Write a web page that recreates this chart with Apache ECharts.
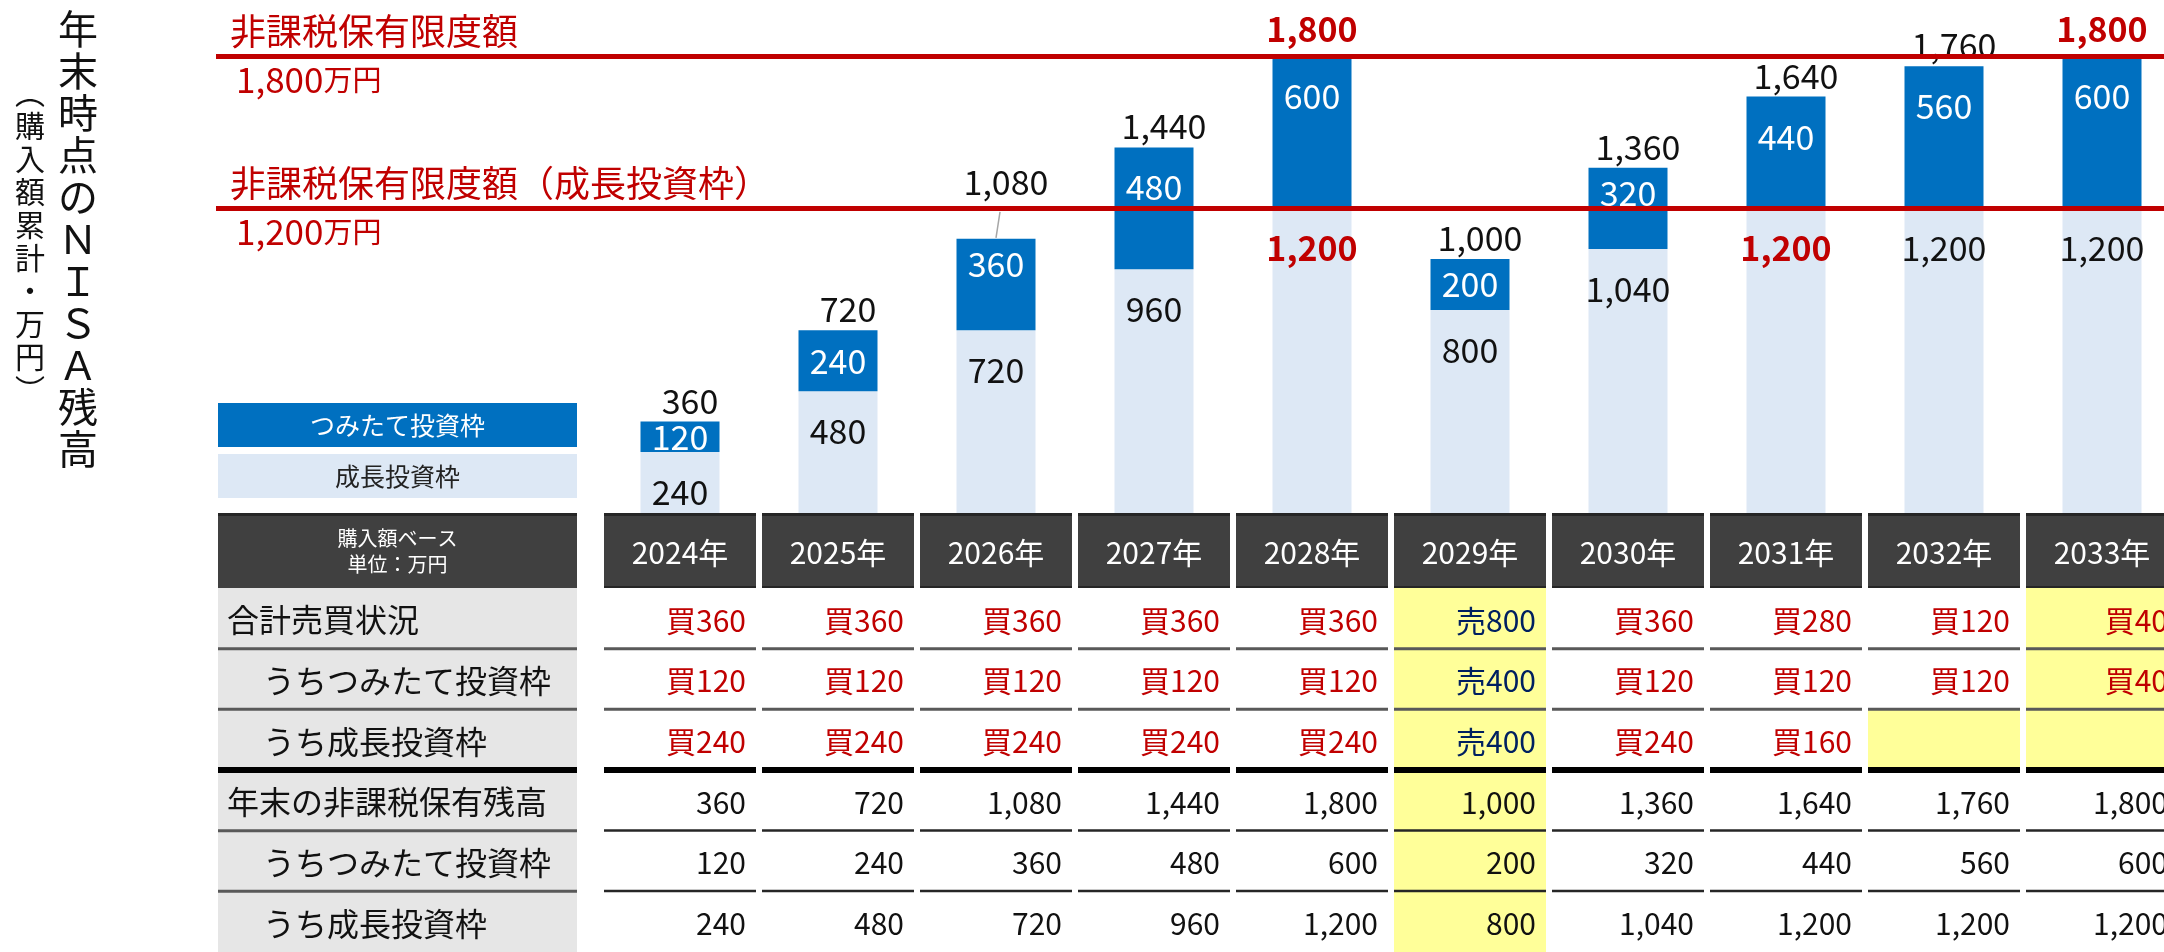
<!DOCTYPE html>
<html>
<head>
<meta charset="utf-8">
<title>NISA残高の推移</title>
<script src="https://cdn.jsdelivr.net/npm/echarts@6/dist/echarts.min.js"></script>
<style>
html, body { margin: 0; padding: 0; background: #fff; }
#chart { width: 2164px; height: 952px; }
</style>
</head>
<body>
<div id="chart"></div>
<script>
// data (万円)
const years = ['2024年', '2025年', '2026年', '2027年', '2028年', '2029年', '2030年', '2031年', '2032年', '2033年']
const growth = [240, 480, 720, 960, 1200, 800, 1040, 1200, 1200, 1200]
const tsumitate = [120, 240, 360, 480, 600, 200, 320, 440, 560, 600]
const totals = [360, 720, 1080, 1440, 1800, 1000, 1360, 1640, 1760, 1800]
// buy > 0, sell < 0
const tradeTotal = [360, 360, 360, 360, 360, -800, 360, 280, 120, 40]
const tradeTsumitate = [120, 120, 120, 120, 120, -400, 120, 120, 120, 40]
const tradeGrowth = [240, 240, 240, 240, 240, -400, 240, 160, null, null]
const limitValues = [1800, 1200]
const limitTitles = ['非課税保有限度額', '非課税保有限度額（成長投資枠）']
const rowLabels = ['合計売買状況', 'うちつみたて投資枠', 'うち成長投資枠', '年末の非課税保有残高', 'うちつみたて投資枠', 'うち成長投資枠']
const rowIndented = [false, true, true, false, true, true]
// [column, row] cells marked yellow
const highlightCells = [[5, 0], [5, 1], [5, 2], [5, 3], [5, 4], [5, 5], [8, 2], [9, 0], [9, 1], [9, 2]]
const liftedTotals = [2]

const FONT = '"Noto Sans CJK JP", "Noto Sans", sans-serif'
const RED = '#c00000'
const NAVY = '#002060'
const DARK = '#0070c0'
const LIGHT = '#dde8f5'
const YELLOW = '#ffff99'
const LABEL_W = 359
const LABEL_GAP = 24

const fmt = v => v.toLocaleString('en-US')
const reachesLimit = (arr, i, limit) => arr[i] >= limit && (i === 0 || arr[i - 1] < limit)
const vertical = s => s.split('').join('\n')
const tableRows = [tradeTotal, tradeTsumitate, tradeGrowth, totals, tsumitate, growth]
const isHighlighted = (col, row) => highlightCells.some(c => c[0] === col && c[1] === row)

function cellText(col, row) {
	const v = tableRows[row][col]
	if (v == null) return { text: '', color: '#000' }
	if (row < 3) {
		return v < 0 ? { text: '売' + fmt(-v), color: NAVY } : { text: '買' + fmt(v), color: RED }
	}
	return { text: fmt(v), color: '#111' }
}

function darkLabel(v) {
	if (v < 300) return { position: 'inside' }
	if (v < 400) return { distance: 8 }
	return {}
}

const chart = echarts.init(document.getElementById('chart'))

const bodyData = []
years.forEach((y, col) => rowLabels.forEach((r, row) => bodyData.push([col, row])))

const limitLineData = []
limitValues.forEach((v, i) => {
	limitLineData.push({
		yAxis: v,
		label: {
			position: 'insideStartTop',
			distance: [14, 7],
			formatter: limitTitles[i],
			color: RED,
			fontSize: 36,
			fontFamily: FONT,
		},
	})
	limitLineData.push({
		yAxis: v,
		label: {
			position: 'insideStartBottom',
			distance: [20, 6],
			formatter: '{n|' + fmt(v) + '}{u|万円}',
			rich: {
				n: { color: RED, fontSize: 35, fontFamily: FONT },
				u: { color: RED, fontSize: 29, fontFamily: FONT },
			},
		},
	})
})

const legendItems = [
	{ name: 'つみたて投資枠', fill: DARK, text: '#fff' },
	{ name: '成長投資枠', fill: LIGHT, text: '#222' },
]

const gridBase = { outerBoundsMode: 'none', containLabel: false }

const option = {
	animation: false,
	backgroundColor: '#fff',
	title: [
		{
			text: vertical('年末時点のＮＩＳＡ残高'),
			left: 58,
			top: 8,
			padding: 0,
			textStyle: { fontSize: 40, lineHeight: 42, fontWeight: 'normal', color: '#111', fontFamily: FONT },
		},
		{
			text: vertical('︵購入額累計・万円︶'),
			left: 15,
			top: 76,
			padding: 0,
			textStyle: { fontSize: 30, lineHeight: 33, fontWeight: 'normal', color: '#111', fontFamily: FONT },
		},
	],
	graphic: legendItems.map((item, i) => ({
		type: 'group',
		left: 218,
		top: 403 + i * 51,
		children: [
			{ type: 'rect', shape: { x: 0, y: 0, width: LABEL_W, height: 44 }, style: { fill: item.fill } },
			{
				type: 'text',
				x: LABEL_W / 2,
				y: 22,
				style: { text: item.name, fill: item.text, fontSize: 25, fontFamily: FONT, align: 'center', verticalAlign: 'middle' },
			},
		],
	})),
	grid: [
		{ ...gridBase, left: 601, width: 1580, top: 56, height: 457 },
		{ ...gridBase, left: 601, width: 1580, top: 513, height: 75 },
		{ ...gridBase, left: 601, width: 1580, top: 588, height: 364 },
		{ ...gridBase, left: 216, right: 0, top: 56, height: 457 },
	],
	xAxis: [
		{ type: 'category', gridIndex: 0, data: years, show: false },
		{ type: 'category', gridIndex: 1, data: years, show: false },
		{ type: 'category', gridIndex: 2, data: years, show: false },
		{ type: 'value', gridIndex: 3, min: 0, max: 1, show: false },
	],
	yAxis: [
		{ type: 'value', gridIndex: 0, min: 0, max: 1800, show: false },
		{ type: 'category', gridIndex: 1, data: ['header'], show: false },
		{ type: 'category', gridIndex: 2, data: rowLabels.map((r, i) => 'r' + i), inverse: true, show: false },
		{ type: 'value', gridIndex: 3, min: 0, max: 1800, show: false },
	],
	series: [
		{
			name: '成長投資枠',
			type: 'bar',
			stack: 'nisa',
			barWidth: '50%',
			itemStyle: { color: LIGHT },
			label: {
				show: true,
				position: 'insideTop',
				distance: 23,
				fontSize: 34,
				color: '#111',
				fontFamily: FONT,
				formatter: p => fmt(p.value),
			},
			data: growth.map((v, i) => ({
				value: v,
				label: reachesLimit(growth, i, limitValues[1]) ? { color: RED, fontWeight: 'bold' } : {},
			})),
		},
		{
			name: 'つみたて投資枠',
			type: 'bar',
			stack: 'nisa',
			barWidth: '50%',
			itemStyle: { color: DARK },
			label: {
				show: true,
				position: 'insideTop',
				distance: 23,
				fontSize: 34,
				color: '#fff',
				fontFamily: FONT,
				formatter: p => fmt(p.value),
			},
			data: tsumitate.map(v => ({ value: v, label: darkLabel(v) })),
		},
		{
			// totals above each bar
			name: '合計',
			type: 'custom',
			silent: true,
			data: totals.map((v, i) => [i, v]),
			renderItem(params, api) {
				const i = api.value(0)
				const v = api.value(1)
				const p = api.coord([i, v])
				const hit = reachesLimit(totals, i, limitValues[0])
				const lift = liftedTotals.includes(i) ? 36 : 0
				const children = [{
					type: 'text',
					x: p[0] + (hit ? 0 : 10),
					y: p[1] - (hit ? 10 : 4) - lift,
					style: {
						text: fmt(v),
						fill: hit ? RED : '#111',
						fontSize: 34,
						fontWeight: hit ? 'bold' : 'normal',
						fontFamily: FONT,
						align: 'center',
						verticalAlign: 'bottom',
					},
				}]
				if (lift) {
					children.push({
						type: 'line',
						shape: { x1: p[0], y1: p[1] - 1, x2: p[0] + 4, y2: p[1] - 27 },
						style: { stroke: '#a6a6a6', lineWidth: 1.5 },
					})
				}
				return { type: 'group', children }
			},
		},
		{
			type: 'line',
			xAxisIndex: 3,
			yAxisIndex: 3,
			data: [],
			z: 5,
			markLine: {
				silent: true,
				symbol: ['none', 'none'],
				lineStyle: { color: RED, width: 5, type: 'solid' },
				emphasis: { disabled: true },
				data: limitLineData,
			},
		},
		{
			// year header cells
			type: 'custom',
			xAxisIndex: 1,
			yAxisIndex: 1,
			silent: true,
			data: years.map((y, i) => [i, 0]),
			renderItem(params, api) {
				const col = api.value(0)
				const c = api.coord([col, 0])
				const s = api.size([1, 1])
				const w = s[0] - 6
				const x0 = c[0] - w / 2
				const y0 = c[1] - s[1] / 2
				return {
					type: 'group',
					children: [
						{ type: 'rect', shape: { x: x0, y: y0, width: w, height: s[1] }, style: { fill: '#404040' } },
						{ type: 'rect', shape: { x: x0, y: y0, width: w, height: 3 }, style: { fill: '#262626' } },
						{ type: 'rect', shape: { x: x0, y: y0 + s[1] - 2, width: w, height: 2 }, style: { fill: '#262626' } },
						{
							type: 'text',
							x: c[0],
							y: c[1] + 2,
							style: { text: years[col], fill: '#fff', fontSize: 30, fontFamily: FONT, align: 'center', verticalAlign: 'middle' },
						},
					],
				}
			},
		},
		{
			// corner header cell
			type: 'custom',
			xAxisIndex: 1,
			yAxisIndex: 1,
			silent: true,
			data: [[0, 0]],
			renderItem(params, api) {
				const cs = params.coordSys
				const x0 = cs.x - LABEL_GAP - LABEL_W
				return {
					type: 'group',
					children: [
						{ type: 'rect', shape: { x: x0, y: cs.y, width: LABEL_W, height: cs.height }, style: { fill: '#404040' } },
						{ type: 'rect', shape: { x: x0, y: cs.y, width: LABEL_W, height: 3 }, style: { fill: '#262626' } },
						{
							type: 'text',
							x: x0 + LABEL_W / 2,
							y: cs.y + cs.height / 2 + 1,
							style: {
								text: '購入額ベース\n単位：万円',
								fill: '#fff',
								fontSize: 20,
								lineHeight: 26,
								fontFamily: FONT,
								align: 'center',
								verticalAlign: 'middle',
							},
						},
					],
				}
			},
		},
		{
			// row label cells
			type: 'custom',
			xAxisIndex: 2,
			yAxisIndex: 2,
			silent: true,
			data: rowLabels.map((r, i) => [0, i]),
			renderItem(params, api) {
				const row = api.value(1)
				const cs = params.coordSys
				const c = api.coord([0, row])
				const h = api.size([1, 1])[1]
				const x0 = cs.x - LABEL_GAP - LABEL_W
				const y0 = c[1] - h / 2
				const children = [
					{ type: 'rect', shape: { x: x0, y: y0, width: LABEL_W, height: h }, style: { fill: '#e6e6e6' }, z2: 0 },
					{
						type: 'text',
						x: x0 + (rowIndented[row] ? 45 : 9),
						y: c[1] + 2,
						style: { text: rowLabels[row], fill: '#111', fontSize: 32, fontFamily: FONT, align: 'left', verticalAlign: 'middle' },
						z2: 10,
					},
				]
				if (row === 2) {
					children.push({ type: 'rect', shape: { x: x0, y: y0 + h - 3, width: LABEL_W, height: 6 }, style: { fill: '#000' }, z2: 5 })
				} else if (row < 5) {
					children.push({ type: 'rect', shape: { x: x0, y: y0 + h - 1.5, width: LABEL_W, height: 3 }, style: { fill: '#595959' }, z2: 5 })
				}
				return { type: 'group', children }
			},
		},
		{
			// body cells
			type: 'custom',
			xAxisIndex: 2,
			yAxisIndex: 2,
			silent: true,
			data: bodyData,
			renderItem(params, api) {
				const col = api.value(0)
				const row = api.value(1)
				const c = api.coord([col, row])
				const s = api.size([1, 1])
				const w = s[0] - 6
				const h = s[1]
				const x0 = c[0] - w / 2
				const y0 = c[1] - h / 2
				const t = cellText(col, row)
				const children = [
					{ type: 'rect', shape: { x: x0, y: y0, width: w, height: h }, style: { fill: isHighlighted(col, row) ? YELLOW : '#fff' }, z2: 0 },
					{
						type: 'text',
						x: x0 + w - 10,
						y: c[1] + 2,
						style: { text: t.text, fill: t.color, fontSize: 30, fontFamily: FONT, align: 'right', verticalAlign: 'middle' },
						z2: 10,
					},
				]
				if (row === 2) {
					children.push({ type: 'rect', shape: { x: x0, y: y0 + h - 3, width: w, height: 6 }, style: { fill: '#000' }, z2: 5 })
				} else if (row < 5) {
					children.push({
						type: 'rect',
						shape: { x: x0, y: y0 + h - 1.5, width: w, height: row < 2 ? 3 : 2.5 },
						style: { fill: row < 2 ? '#595959' : '#262626' },
						z2: 5,
					})
				}
				return { type: 'group', children }
			},
		},
	],
}

chart.setOption(option)
</script>
</body>
</html>
